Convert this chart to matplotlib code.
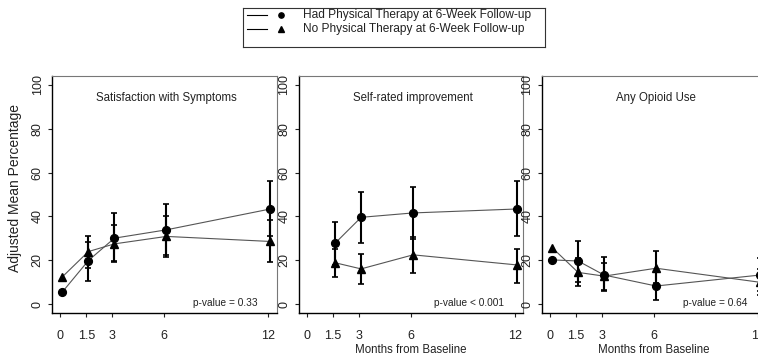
import numpy as np
import matplotlib
matplotlib.use('Agg')
import matplotlib.pyplot as plt

plt.rcParams['font.family'] = ['Liberation Sans', 'DejaVu Sans']

# ---------------- data ----------------
months = [0, 1.5, 3, 6, 12]
month_labels = ['0', '1.5', '3', '6', '12']
yticks = [0, 20, 40, 60, 80, 100]
titles = ['Satisfaction with Symptoms', 'Self-rated improvement', 'Any Opioid Use']
pvalues = ['p-value = 0.33', 'p-value < 0.001', 'p-value = 0.64']
legend_labels = ['Had Physical Therapy at 6-Week Follow-up',
                 'No Physical Therapy at 6-Week Follow-up']
nan = np.nan

# Satisfaction with Symptoms
sat_had = [5.6, 19.9, 30.1, 33.9, 43.4]
sat_had_lo = [nan, 10.7, 19.1, 22.5, 31.0]
sat_had_hi = [nan, 28.5, 41.6, 45.5, 56.0]
sat_no = [12.5, 24.0, 27.5, 30.9, 28.6]
sat_no_lo = [nan, 16.5, 19.8, 21.5, 19.4]
sat_no_hi = [nan, 31.3, 36.2, 40.0, 38.5]

# Self-rated improvement
imp_had = [nan, 27.8, 39.6, 41.6, 43.4]
imp_had_lo = [nan, 18.0, 27.8, 29.8, 31.3]
imp_had_hi = [nan, 37.5, 51.2, 53.5, 56.0]
imp_no = [nan, 18.9, 16.1, 22.5, 17.9]
imp_no_lo = [nan, 12.5, 9.2, 14.1, 9.8]
imp_no_hi = [nan, 25.0, 22.9, 30.5, 25.2]

# Any Opioid Use
opi_had = [20.2, 19.7, 13.3, 8.3, 13.3]
opi_had_lo = [nan, 10.2, 6.0, 2.1, 6.0]
opi_had_hi = [nan, 28.6, 21.4, 14.5, 21.0]
opi_no = [25.8, 14.5, 12.8, 16.4, 10.0]
opi_no_lo = [nan, 8.4, 6.5, 9.5, 4.0]
opi_no_hi = [nan, 21.0, 18.7, 24.3, 16.0]

panels = [
    (sat_had, sat_had_lo, sat_had_hi, sat_no, sat_no_lo, sat_no_hi),
    (imp_had, imp_had_lo, imp_had_hi, imp_no, imp_no_lo, imp_no_hi),
    (opi_had, opi_had_lo, opi_had_hi, opi_no, opi_no_lo, opi_no_hi),
]

# ---------------- figure ----------------
W, H = 758, 362
fig = plt.figure(figsize=(W / 100, H / 100), dpi=100)


def px_axes(left, top, width, height):
    return fig.add_axes([left / W, 1 - (top + height) / H, width / W, height / H])


lefts = [52, 298.7, 541.7]
x_shift = 0.12
xm = np.array(months) + x_shift

for i, (left, data) in enumerate(zip(lefts, panels)):
    had, had_lo, had_hi, no, no_lo, no_hi = [np.array(d, dtype=float) for d in data]
    ax = px_axes(left, 76, 224.6, 237)
    ax.set_xlim(-0.48, 12.48)
    ax.set_ylim(-4, 104)

    for mean, lo, hi, mk, ms in [(had, had_lo, had_hi, 'o', 5.6), (no, no_lo, no_hi, '^', 5.2)]:
        ok = ~np.isnan(mean)
        ax.plot(xm[ok], mean[ok], color='#555555', lw=0.8, zorder=2)
        eb = ~np.isnan(lo)
        ax.errorbar(xm[eb], mean[eb], yerr=[mean[eb] - lo[eb], hi[eb] - mean[eb]],
                    fmt='none', ecolor='black', elinewidth=1.5, capsize=2.2,
                    capthick=1.2, zorder=3)
        ax.plot(xm[ok], mean[ok], mk, color='black', ms=ms, zorder=4)

    for s in ['left', 'bottom']:
        ax.spines[s].set_color('black')
        ax.spines[s].set_linewidth(1.0)
    for s in ['top', 'right']:
        ax.spines[s].set_color('#777777')
        ax.spines[s].set_linewidth(0.8)

    ax.set_xticks(months)
    ax.set_xticklabels(month_labels)
    ax.set_yticks(yticks)
    ax.set_yticklabels([str(t) for t in yticks])
    ax.tick_params(direction='out', length=3, width=0.8, labelsize=9, colors='#222222')
    ax.tick_params(axis='x', pad=9)
    ax.tick_params(axis='y', pad=3, labelrotation=90)
    for lab in ax.get_yticklabels():
        lab.set_verticalalignment('center')

    ax.text(0.51, 0.907, titles[i], transform=ax.transAxes, ha='center', va='center',
            fontsize=8.3, color='#222222')
    ax.text(0.915, 0.042, pvalues[i], transform=ax.transAxes, ha='right', va='center',
            fontsize=7.3, color='#222222')
    if i > 0:
        ax.text(0.5, -0.156, 'Months from Baseline', transform=ax.transAxes,
                ha='center', va='center', fontsize=8.3, color='#222222')

fig.text(15 / W, 1 - 188 / H, 'Adjusted Mean Percentage', rotation=90,
         ha='center', va='center', fontsize=10, color='#222222')

# ---------------- legend ----------------
lax = px_axes(243, 8, 302, 39)
lax.set_xlim(0, 302)
lax.set_ylim(39, 0)
lax.set_xticks([])
lax.set_yticks([])
for s in lax.spines.values():
    s.set_color('#333333')
    s.set_linewidth(0.8)
for y, mk, lab in [(7, 'o', legend_labels[0]), (21, '^', legend_labels[1])]:
    lax.plot([4, 24], [y, y], color='black', lw=0.8)
    lax.plot([38], [y], mk, color='black', ms=3.8)
    lax.text(60, y, lab, ha='left', va='center', fontsize=8.6, color='#222222')

fig.savefig('out.png', dpi=100)
